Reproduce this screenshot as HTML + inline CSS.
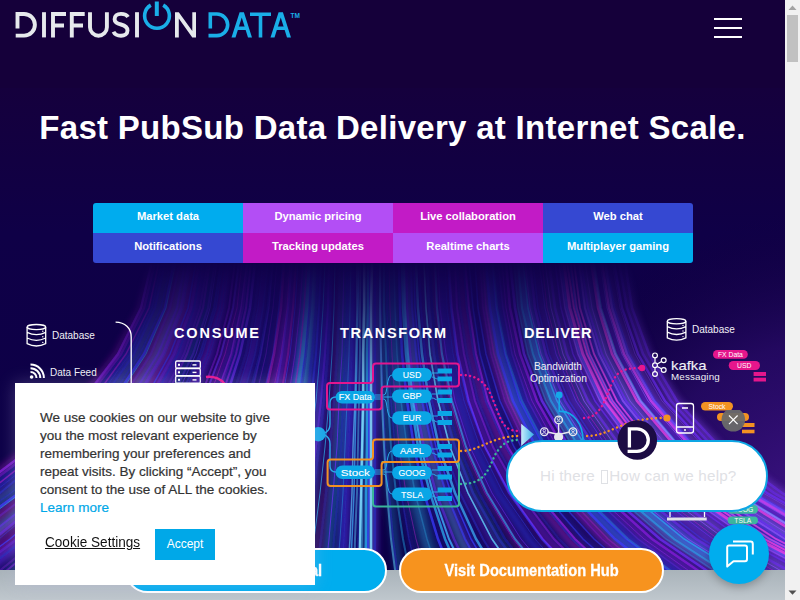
<!DOCTYPE html>
<html><head><meta charset="utf-8">
<style>
*{box-sizing:border-box}
html,body{margin:0;padding:0;width:800px;height:600px;overflow:hidden;background:#15003a;font-family:"Liberation Sans",sans-serif}
#page{position:absolute;left:0;top:0;width:785px;height:600px;overflow:hidden;background:#15003a}
.abs{position:absolute}
#sb{position:absolute;left:785px;top:0;width:15px;height:600px;background:#f1f1f1}
#title{position:absolute;left:0;top:107.6px;width:785px;text-align:center;color:#fff;font-weight:bold;font-size:33px;letter-spacing:0.3px;line-height:40px;white-space:nowrap}
#tabs{position:absolute;left:93px;top:203px;width:600px;height:60px;border-radius:3px;overflow:hidden}
#tabs div{position:absolute;width:150px;height:30px;color:#fff;font-weight:bold;font-size:11.2px;line-height:26px;text-align:center;white-space:nowrap}
#strip{position:absolute;left:0;top:570px;width:785px;height:30px;background:linear-gradient(#a9b3ba,#bfc7cd)}
.btn{position:absolute;top:548px;height:45px;border:2px solid #fff;border-radius:23px;color:#fff;font-weight:bold;font-size:16.8px;line-height:41px;text-align:center;white-space:nowrap}
.btn span{display:inline-block;transform:scaleX(0.875);-webkit-text-stroke:0.3px #fff}
#cookie{position:absolute;left:15px;top:383px;width:300px;height:202px;background:#fff;box-shadow:0 0 16px rgba(190,190,235,.28)}
#cookie p{position:absolute;left:25px;top:26.2px;margin:0;width:275px;font-size:13.5px;line-height:18px;color:#333;white-space:nowrap;-webkit-text-stroke:0.2px #333}
</style></head><body>
<div id="page">
<!--STREAKS--><svg class="abs" style="left:0;top:0" width="785" height="600" viewBox="0 0 785 600">
<defs>
<linearGradient id="bgv" x1="0" y1="88" x2="0" y2="570" gradientUnits="userSpaceOnUse"><stop offset="0" stop-color="#15003d"/><stop offset="0.3" stop-color="#0f0047"/><stop offset="1" stop-color="#0c0048"/></linearGradient>
<linearGradient id="fade" x1="0" y1="262" x2="0" y2="400" gradientUnits="userSpaceOnUse"><stop offset="0" stop-color="#000"/><stop offset="0.3" stop-color="#444"/><stop offset="1" stop-color="#fff"/></linearGradient>
<mask id="m" maskUnits="userSpaceOnUse" x="0" y="262" width="785" height="308"><rect x="0" y="262" width="785" height="308" fill="url(#fade)"/></mask>
<radialGradient id="pg" cx="830" cy="540" r="330" gradientUnits="userSpaceOnUse"><stop offset="0" stop-color="#44168e"/><stop offset="0.6" stop-color="#2c0c6a" stop-opacity="0.7"/><stop offset="1" stop-color="#15003a" stop-opacity="0"/></radialGradient>
<filter id="bl" x="-10%" y="-10%" width="120%" height="120%"><feGaussianBlur stdDeviation="0.7"/></filter>
<filter id="bl2" x="-10%" y="-10%" width="120%" height="120%"><feGaussianBlur stdDeviation="3"/></filter>
</defs>
<rect x="0" y="88" width="785" height="482" fill="url(#bgv)"/>
<rect x="0" y="150" width="785" height="420" fill="url(#pg)"/>
<g mask="url(#m)" fill="none" stroke-linecap="round">
<g filter="url(#bl2)">
<path d="M150,262 L139,308 L115,354 L79,401 L29,447 L-33,493 L-108,539 L-196,585 L-297,632 L-410,678 L-536,724" stroke="#d020c8" stroke-width="4" opacity="0.38"/>
<path d="M155,262 L145,308 L122,354 L86,401 L38,447 L-22,493 L-94,539 L-179,585 L-276,632 L-386,678 L-508,724" stroke="#2a2ab8" stroke-width="8" opacity="0.40"/>
<path d="M161,262 L151,308 L129,354 L95,401 L49,447 L-9,493 L-78,539 L-160,585 L-253,632 L-358,678 L-475,724" stroke="#3a3cff" stroke-width="8" opacity="0.47"/>
<path d="M167,262 L158,308 L136,354 L104,401 L60,447 L4,493 L-62,539 L-140,585 L-230,632 L-330,678 L-442,724" stroke="#b01cc8" stroke-width="4" opacity="0.34"/>
<path d="M170,262 L160,308 L139,354 L107,401 L63,447 L9,493 L-57,539 L-134,585 L-222,632 L-321,678 L-431,724" stroke="#2aa8f0" stroke-width="10" opacity="0.31"/>
<path d="M174,262 L165,308 L144,354 L113,401 L71,447 L19,493 L-45,539 L-119,585 L-204,632 L-300,678 L-407,724" stroke="#2a2ab8" stroke-width="5" opacity="0.54"/>
<path d="M180,262 L170,308 L151,354 L121,401 L80,447 L30,493 L-31,539 L-103,585 L-184,632 L-277,678 L-379,724" stroke="#d020c8" stroke-width="6" opacity="0.51"/>
<path d="M187,262 L178,308 L159,354 L131,401 L93,447 L45,493 L-13,539 L-80,585 L-158,632 L-245,678 L-342,724" stroke="#2aa8f0" stroke-width="10" opacity="0.51"/>
<path d="M189,262 L180,308 L162,354 L134,401 L96,447 L49,493 L-8,539 L-75,585 L-151,632 L-237,678 L-333,724" stroke="#b01cc8" stroke-width="10" opacity="0.42"/>
<path d="M196,262 L188,308 L171,354 L144,401 L109,447 L64,493 L11,539 L-52,585 L-124,632 L-205,678 L-294,724" stroke="#b01cc8" stroke-width="10" opacity="0.44"/>
<path d="M201,262 L193,308 L176,354 L150,401 L116,447 L73,493 L22,539 L-39,585 L-108,632 L-186,678 L-273,724" stroke="#2a2ab8" stroke-width="8" opacity="0.40"/>
<path d="M203,262 L195,308 L179,354 L154,401 L120,447 L78,493 L27,539 L-32,585 L-100,632 L-176,678 L-262,724" stroke="#6a2cf0" stroke-width="10" opacity="0.53"/>
<path d="M209,262 L202,308 L186,354 L163,401 L131,447 L91,493 L43,539 L-13,585 L-77,632 L-149,678 L-229,724" stroke="#2a2ab8" stroke-width="6" opacity="0.51"/>
<path d="M214,262 L207,308 L192,354 L169,401 L138,447 L100,493 L54,539 L0,585 L-62,632 L-131,678 L-208,724" stroke="#2aa8f0" stroke-width="5" opacity="0.31"/>
<path d="M218,262 L211,308 L197,354 L175,401 L146,447 L109,493 L65,539 L13,585 L-46,632 L-112,678 L-186,724" stroke="#2a2ab8" stroke-width="8" opacity="0.36"/>
<path d="M226,262 L219,308 L206,354 L185,401 L158,447 L124,493 L83,539 L35,585 L-20,632 L-82,678 L-151,724" stroke="#6a2cf0" stroke-width="6" opacity="0.36"/>
<path d="M226,262 L220,308 L206,354 L186,401 L159,447 L125,493 L84,539 L36,585 L-19,632 L-80,678 L-149,724" stroke="#8a20e0" stroke-width="6" opacity="0.46"/>
<path d="M231,262 L224,308 L212,354 L192,401 L166,447 L134,493 L94,539 L49,585 L-4,632 L-63,678 L-128,724" stroke="#6a2cf0" stroke-width="6" opacity="0.52"/>
<path d="M240,262 L234,308 L222,354 L205,401 L181,447 L151,493 L116,539 L74,585 L26,632 L-27,678 L-87,724" stroke="#8a20e0" stroke-width="4" opacity="0.44"/>
<path d="M242,262 L236,308 L225,354 L207,401 L184,447 L155,493 L121,539 L80,585 L34,632 L-19,678 L-77,724" stroke="#8a20e0" stroke-width="6" opacity="0.38"/>
<path d="M246,262 L240,308 L229,354 L213,401 L190,447 L163,493 L129,539 L90,585 L46,632 L-4,678 L-60,724" stroke="#6a2cf0" stroke-width="6" opacity="0.36"/>
<path d="M251,262 L246,308 L235,354 L220,401 L199,447 L173,493 L141,539 L105,585 L63,632 L16,678 L-36,724" stroke="#3a3cff" stroke-width="8" opacity="0.42"/>
<path d="M256,262 L251,308 L241,354 L226,401 L207,447 L182,493 L153,539 L118,585 L79,632 L34,678 L-15,724" stroke="#3a3cff" stroke-width="5" opacity="0.40"/>
<path d="M263,262 L259,308 L250,354 L236,401 L219,447 L196,493 L169,539 L138,585 L102,632 L62,678 L17,724" stroke="#6a2cf0" stroke-width="6" opacity="0.33"/>
<path d="M265,262 L260,308 L251,354 L238,401 L220,447 L198,493 L172,539 L141,585 L106,632 L66,678 L22,724" stroke="#6a2cf0" stroke-width="5" opacity="0.57"/>
<path d="M269,262 L265,308 L257,354 L244,401 L228,447 L207,493 L182,539 L153,585 L120,632 L83,678 L42,724" stroke="#2a2ab8" stroke-width="8" opacity="0.44"/>
<path d="M276,262 L272,308 L264,354 L253,401 L238,447 L219,493 L196,539 L170,585 L140,632 L106,678 L68,724" stroke="#2a2ab8" stroke-width="5" opacity="0.43"/>
<path d="M280,262 L277,308 L270,354 L259,401 L245,447 L227,493 L206,539 L181,585 L153,632 L122,678 L87,724" stroke="#3a3cff" stroke-width="5" opacity="0.39"/>
<path d="M287,262 L284,308 L277,354 L268,401 L255,447 L239,493 L220,539 L198,585 L173,632 L144,678 L113,724" stroke="#b01cc8" stroke-width="4" opacity="0.59"/>
<path d="M291,262 L288,308 L282,354 L273,401 L261,447 L246,493 L229,539 L208,585 L185,632 L158,678 L129,724" stroke="#6a2cf0" stroke-width="6" opacity="0.53"/>
<path d="M294,262 L291,308 L285,354 L276,401 L265,447 L251,493 L234,539 L214,585 L192,632 L166,678 L138,724" stroke="#6a2cf0" stroke-width="5" opacity="0.47"/>
<path d="M298,262 L295,308 L289,354 L281,401 L271,447 L258,493 L242,539 L224,585 L203,632 L179,678 L153,724" stroke="#b01cc8" stroke-width="5" opacity="0.37"/>
<path d="M306,262 L303,308 L298,354 L291,401 L282,447 L271,493 L257,539 L242,585 L224,632 L204,678 L181,724" stroke="#3a3cff" stroke-width="10" opacity="0.53"/>
<path d="M311,262 L309,308 L304,354 L298,401 L290,447 L280,493 L268,539 L254,585 L238,632 L220,678 L201,724" stroke="#60d0ff" stroke-width="10" opacity="0.51"/>
<path d="M311,262 L309,308 L305,354 L299,401 L290,447 L280,493 L269,539 L255,585 L239,632 L221,678 L201,724" stroke="#2ab0f0" stroke-width="10" opacity="0.45"/>
<path d="M319,262 L317,308 L314,354 L309,401 L302,447 L294,493 L284,539 L273,585 L260,632 L245,678 L229,724" stroke="#3a3cff" stroke-width="8" opacity="0.46"/>
<path d="M325,262 L323,308 L320,354 L315,401 L310,447 L303,493 L294,539 L284,585 L273,632 L260,678 L246,724" stroke="#1c1c98" stroke-width="6" opacity="0.54"/>
<path d="M328,262 L327,308 L324,354 L320,401 L315,447 L308,493 L301,539 L292,585 L282,632 L271,678 L258,724" stroke="#6a2cf0" stroke-width="5" opacity="0.47"/>
<path d="M331,262 L330,308 L327,354 L323,401 L319,447 L313,493 L306,539 L298,585 L288,632 L278,678 L267,724" stroke="#3a3cff" stroke-width="8" opacity="0.31"/>
<path d="M339,262 L337,308 L335,354 L332,401 L329,447 L324,493 L319,539 L313,585 L306,632 L298,678 L289,724" stroke="#a01cc0" stroke-width="5" opacity="0.31"/>
<path d="M343,262 L342,308 L340,354 L338,401 L335,447 L331,493 L327,539 L321,585 L316,632 L309,678 L302,724" stroke="#1c1c98" stroke-width="6" opacity="0.38"/>
<path d="M345,262 L344,308 L343,354 L341,401 L338,447 L334,493 L330,539 L326,585 L320,632 L315,678 L308,724" stroke="#2ab0f0" stroke-width="10" opacity="0.32"/>
<path d="M352,262 L351,308 L350,354 L349,401 L347,447 L344,493 L342,539 L338,585 L335,632 L331,678 L326,724" stroke="#3a3cff" stroke-width="8" opacity="0.53"/>
<path d="M355,262 L354,308 L353,354 L352,401 L350,447 L348,493 L346,539 L343,585 L340,632 L337,678 L333,724" stroke="#6a2cf0" stroke-width="4" opacity="0.39"/>
<path d="M359,262 L358,308 L357,354 L356,401 L355,447 L354,493 L352,539 L350,585 L348,632 L345,678 L343,724" stroke="#2a2ab8" stroke-width="8" opacity="0.37"/>
<path d="M365,262 L364,308 L364,354 L364,401 L363,447 L362,493 L361,539 L360,585 L359,632 L358,678 L356,724" stroke="#1c1c98" stroke-width="10" opacity="0.34"/>
<path d="M369,262 L369,308 L369,354 L369,401 L369,447 L368,493 L368,539 L367,585 L367,632 L366,678 L366,724" stroke="#2ab0f0" stroke-width="8" opacity="0.43"/>
<path d="M375,262 L374,308 L374,354 L374,401 L374,447 L374,493 L374,539 L374,585 L374,632 L374,678 L374,724" stroke="#6a2cf0" stroke-width="8" opacity="0.50"/>
<path d="M381,262 L381,308 L382,354 L384,401 L386,447 L390,493 L395,539 L401,585 L410,632 L420,678 L432,724" stroke="#2ab0f0" stroke-width="6" opacity="0.37"/>
<path d="M387,262 L388,308 L389,354 L392,401 L396,447 L402,493 L411,539 L422,585 L436,632 L454,678 L475,724" stroke="#1c1c98" stroke-width="8" opacity="0.56"/>
<path d="M393,262 L394,308 L396,354 L400,401 L405,447 L414,493 L425,539 L440,585 L459,632 L483,678 L511,724" stroke="#2ab0f0" stroke-width="10" opacity="0.42"/>
<path d="M399,262 L400,308 L402,354 L406,401 L413,447 L424,493 L438,539 L456,585 L479,632 L507,678 L542,724" stroke="#1c1c98" stroke-width="10" opacity="0.42"/>
<path d="M404,262 L405,308 L408,354 L413,401 L421,447 L433,493 L449,539 L471,585 L498,632 L531,678 L572,724" stroke="#6a2cf0" stroke-width="4" opacity="0.51"/>
<path d="M408,262 L409,308 L413,354 L418,401 L427,447 L441,493 L459,539 L482,585 L512,632 L549,678 L594,724" stroke="#60d0ff" stroke-width="4" opacity="0.56"/>
<path d="M411,262 L412,308 L416,354 L422,401 L431,447 L445,493 L465,539 L490,585 L521,632 L561,678 L608,724" stroke="#6a2cf0" stroke-width="8" opacity="0.34"/>
<path d="M415,262 L417,308 L421,354 L427,401 L438,447 L453,493 L474,539 L502,585 L537,632 L579,678 L631,724" stroke="#1c1c98" stroke-width="10" opacity="0.57"/>
<path d="M423,262 L425,308 L429,354 L437,401 L449,447 L466,493 L490,539 L522,585 L561,632 L610,678 L669,724" stroke="#6a2cf0" stroke-width="10" opacity="0.38"/>
<path d="M428,262 L430,308 L434,354 L443,401 L456,447 L475,493 L500,539 L534,585 L577,632 L629,678 L693,724" stroke="#2ab0f0" stroke-width="4" opacity="0.34"/>
<path d="M434,262 L436,308 L441,354 L450,401 L464,447 L485,493 L512,539 L549,585 L595,632 L652,678 L721,724" stroke="#a01cc0" stroke-width="5" opacity="0.34"/>
<path d="M436,262 L438,308 L443,354 L453,401 L467,447 L488,493 L517,539 L554,585 L602,632 L660,678 L731,724" stroke="#6a2cf0" stroke-width="5" opacity="0.38"/>
<path d="M442,262 L444,308 L450,354 L460,401 L475,447 L498,493 L529,539 L569,585 L620,632 L682,678 L758,724" stroke="#3a3cff" stroke-width="8" opacity="0.53"/>
<path d="M451,262 L454,308 L460,354 L471,401 L488,447 L513,493 L547,539 L591,585 L647,632 L716,678 L800,724" stroke="#8a20e0" stroke-width="10" opacity="0.43"/>
<path d="M454,262 L457,308 L464,354 L475,401 L493,447 L519,493 L554,539 L600,585 L657,632 L729,678 L816,724" stroke="#2a2ab8" stroke-width="6" opacity="0.32"/>
<path d="M460,262 L463,308 L470,354 L482,401 L501,447 L528,493 L565,539 L613,585 L674,632 L750,678 L841,724" stroke="#2a2ab8" stroke-width="6" opacity="0.54"/>
<path d="M462,262 L465,308 L472,354 L485,401 L504,447 L531,493 L569,539 L618,585 L681,632 L757,678 L850,724" stroke="#d020c8" stroke-width="4" opacity="0.53"/>
<path d="M469,262 L472,308 L480,354 L493,401 L513,447 L543,493 L582,539 L634,585 L700,632 L782,678 L880,724" stroke="#3a3cff" stroke-width="6" opacity="0.38"/>
<path d="M477,262 L481,308 L488,354 L502,401 L524,447 L555,493 L598,539 L653,585 L723,632 L810,678 L914,724" stroke="#2a2ab8" stroke-width="8" opacity="0.36"/>
<path d="M481,262 L485,308 L493,354 L507,401 L529,447 L561,493 L605,539 L662,585 L734,632 L823,678 L931,724" stroke="#b01cc8" stroke-width="6" opacity="0.54"/>
<path d="M488,262 L492,308 L500,354 L515,401 L539,447 L573,493 L619,539 L678,585 L754,632 L847,678 L960,724" stroke="#2aa8f0" stroke-width="8" opacity="0.44"/>
<path d="M489,262 L493,308 L502,354 L517,401 L540,447 L574,493 L621,539 L681,585 L757,632 L851,678 L965,724" stroke="#3a3cff" stroke-width="8" opacity="0.44"/>
<path d="M496,262 L500,308 L509,354 L525,401 L549,447 L585,493 L633,539 L696,585 L775,632 L874,678 L992,724" stroke="#3a3cff" stroke-width="10" opacity="0.40"/>
<path d="M503,262 L507,308 L517,354 L533,401 L559,447 L596,493 L646,539 L712,585 L795,632 L898,678 L1021,724" stroke="#8a20e0" stroke-width="6" opacity="0.46"/>
<path d="M506,262 L511,308 L520,354 L537,401 L563,447 L601,493 L653,539 L720,585 L804,632 L909,678 L1035,724" stroke="#2a2ab8" stroke-width="4" opacity="0.51"/>
<path d="M513,262 L518,308 L528,354 L546,401 L573,447 L612,493 L666,539 L736,585 L824,632 L932,678 L1064,724" stroke="#8a20e0" stroke-width="5" opacity="0.47"/>
<path d="M517,262 L522,308 L532,354 L550,401 L578,447 L619,493 L673,539 L745,585 L835,632 L946,678 L1080,724" stroke="#2aa8f0" stroke-width="5" opacity="0.38"/>
<path d="M520,262 L525,308 L536,354 L554,401 L582,447 L623,493 L679,539 L751,585 L843,632 L956,678 L1092,724" stroke="#2aa8f0" stroke-width="8" opacity="0.48"/>
<path d="M526,262 L530,308 L541,354 L560,401 L589,447 L631,493 L688,539 L763,585 L857,632 L972,678 L1113,724" stroke="#5a5cff" stroke-width="10" opacity="0.59"/>
<path d="M535,262 L541,308 L552,354 L572,401 L602,447 L647,493 L706,539 L784,585 L883,632 L1005,678 L1152,724" stroke="#8a4cf8" stroke-width="4" opacity="0.49"/>
<path d="M536,262 L541,308 L553,354 L573,401 L603,447 L648,493 L708,539 L786,585 L885,632 L1007,678 L1155,724" stroke="#6a2cf0" stroke-width="5" opacity="0.44"/>
<path d="M542,262 L547,308 L559,354 L579,401 L611,447 L656,493 L718,539 L798,585 L900,632 L1025,678 L1177,724" stroke="#5a5cff" stroke-width="5" opacity="0.43"/>
<path d="M548,262 L553,308 L565,354 L586,401 L619,447 L666,493 L729,539 L811,585 L916,632 L1044,678 L1200,724" stroke="#a090ff" stroke-width="5" opacity="0.44"/>
<path d="M555,262 L561,308 L573,354 L595,401 L629,447 L677,493 L742,539 L827,585 L935,632 L1068,678 L1228,724" stroke="#6a2cf0" stroke-width="10" opacity="0.41"/>
<path d="M561,262 L567,308 L580,354 L602,401 L636,447 L686,493 L753,539 L840,585 L951,632 L1087,678 L1251,724" stroke="#8a4cf8" stroke-width="5" opacity="0.55"/>
<path d="M564,262 L570,308 L583,354 L606,401 L641,447 L691,493 L759,539 L847,585 L959,632 L1097,678 L1264,724" stroke="#8a4cf8" stroke-width="8" opacity="0.41"/>
<path d="M570,262 L576,308 L589,354 L612,401 L648,447 L699,493 L768,539 L859,585 L973,632 L1114,678 L1284,724" stroke="#3a3cff" stroke-width="5" opacity="0.44"/>
<path d="M577,262 L583,308 L597,354 L620,401 L657,447 L709,493 L781,539 L873,585 L991,632 L1135,678 L1310,724" stroke="#8a4cf8" stroke-width="5" opacity="0.51"/>
<path d="M579,262 L586,308 L599,354 L623,401 L660,447 L713,493 L785,539 L879,585 L997,632 L1143,678 L1320,724" stroke="#3a3cff" stroke-width="10" opacity="0.45"/>
<path d="M585,262 L591,308 L606,354 L630,401 L668,447 L722,493 L795,539 L891,585 L1012,632 L1161,678 L1341,724" stroke="#a090ff" stroke-width="5" opacity="0.54"/>
<path d="M591,262 L598,308 L613,354 L638,401 L676,447 L732,493 L807,539 L905,585 L1029,632 L1181,678 L1366,724" stroke="#6a2cf0" stroke-width="10" opacity="0.39"/>
<path d="M597,262 L604,308 L618,354 L644,401 L684,447 L740,493 L817,539 L916,585 L1042,632 L1198,678 L1386,724" stroke="#6a2cf0" stroke-width="4" opacity="0.31"/>
<path d="M599,262 L606,308 L621,354 L646,401 L686,447 L743,493 L820,539 L921,585 L1048,632 L1204,678 L1393,724" stroke="#6a2cf0" stroke-width="6" opacity="0.47"/>
<path d="M605,262 L612,308 L627,354 L653,401 L694,447 L752,493 L830,539 L933,585 L1062,632 L1222,678 L1414,724" stroke="#8a4cf8" stroke-width="6" opacity="0.42"/>
<path d="M610,262 L617,308 L633,354 L659,401 L701,447 L760,493 L840,539 L944,585 L1076,632 L1238,678 L1434,724" stroke="#8a4cf8" stroke-width="4" opacity="0.59"/>
<path d="M618,262 L626,308 L642,354 L669,401 L712,447 L772,493 L855,539 L962,585 L1097,632 L1264,678 L1465,724" stroke="#8a4cf8" stroke-width="4" opacity="0.32"/>
<path d="M623,262 L631,308 L647,354 L675,401 L718,447 L780,493 L864,539 L972,585 L1110,632 L1279,678 L1484,724" stroke="#8a4cf8" stroke-width="10" opacity="0.39"/>
</g><g filter="url(#bl)">
<path d="M152,262 L141,308 L118,354 L82,401 L33,447 L-28,493 L-102,539 L-189,585 L-288,632 L-399,678 L-524,724" stroke="#8a20e0" stroke-width="2.5" opacity="0.72"/>
<path d="M155,262 L144,308 L121,354 L85,401 L38,447 L-23,493 L-95,539 L-181,585 L-278,632 L-388,678 L-510,724" stroke="#8a20e0" stroke-width="2.5" opacity="0.41"/>
<path d="M159,262 L149,308 L126,354 L92,401 L45,447 L-13,493 L-84,539 L-167,585 L-261,632 L-368,678 L-487,724" stroke="#b01cc8" stroke-width="1.5" opacity="0.58"/>
<path d="M162,262 L152,308 L130,354 L96,401 L51,447 L-7,493 L-76,539 L-157,585 L-250,632 L-354,678 L-470,724" stroke="#2a2ab8" stroke-width="1.0" opacity="0.71"/>
<path d="M165,262 L155,308 L134,354 L101,401 L56,447 L0,493 L-68,539 L-147,585 L-237,632 L-340,678 L-453,724" stroke="#2a2ab8" stroke-width="2.0" opacity="0.80"/>
<path d="M171,262 L161,308 L140,354 L108,401 L65,447 L11,493 L-54,539 L-130,585 L-217,632 L-316,678 L-425,724" stroke="#2a2ab8" stroke-width="1.5" opacity="0.61"/>
<path d="M174,262 L165,308 L144,354 L113,401 L71,447 L19,493 L-45,539 L-119,585 L-204,632 L-300,678 L-407,724" stroke="#3a3cff" stroke-width="2.5" opacity="0.76"/>
<path d="M176,262 L166,308 L146,354 L115,401 L74,447 L21,493 L-41,539 L-115,585 L-199,632 L-294,678 L-400,724" stroke="#2aa8f0" stroke-width="1.0" opacity="0.65"/>
<path d="M180,262 L170,308 L151,354 L121,401 L81,447 L30,493 L-31,539 L-102,585 L-184,632 L-276,678 L-378,724" stroke="#6a2cf0" stroke-width="2.0" opacity="0.34"/>
<path d="M185,262 L177,308 L158,354 L129,401 L91,447 L42,493 L-16,539 L-84,585 L-162,632 L-251,678 L-348,724" stroke="#6a2cf0" stroke-width="2.0" opacity="0.56"/>
<path d="M189,262 L181,308 L163,354 L135,401 L98,447 L51,493 L-6,539 L-72,585 L-148,632 L-233,678 L-328,724" stroke="#6a2cf0" stroke-width="2.5" opacity="0.55"/>
<path d="M191,262 L183,308 L165,354 L137,401 L101,447 L54,493 L-1,539 L-67,585 L-141,632 L-225,678 L-319,724" stroke="#3a3cff" stroke-width="1.0" opacity="0.38"/>
<path d="M196,262 L188,308 L170,354 L144,401 L109,447 L64,493 L10,539 L-52,585 L-124,632 L-205,678 L-295,724" stroke="#3a3cff" stroke-width="1.5" opacity="0.71"/>
<path d="M199,262 L191,308 L174,354 L148,401 L113,447 L70,493 L17,539 L-44,585 L-115,632 L-194,678 L-282,724" stroke="#6a2cf0" stroke-width="2.5" opacity="0.37"/>
<path d="M202,262 L194,308 L178,354 L152,401 L119,447 L76,493 L25,539 L-35,585 L-103,632 L-180,678 L-266,724" stroke="#2a2ab8" stroke-width="2.0" opacity="0.72"/>
<path d="M208,262 L200,308 L184,354 L160,401 L128,447 L88,493 L39,539 L-18,585 L-83,632 L-156,678 L-238,724" stroke="#8a20e0" stroke-width="2.0" opacity="0.31"/>
<path d="M210,262 L203,308 L187,354 L164,401 L132,447 L92,493 L45,539 L-11,585 L-75,632 L-146,678 L-226,724" stroke="#8a20e0" stroke-width="2.0" opacity="0.50"/>
<path d="M215,262 L208,308 L193,354 L170,401 L140,447 L102,493 L56,539 L3,585 L-58,632 L-127,678 L-203,724" stroke="#6a2cf0" stroke-width="2.0" opacity="0.41"/>
<path d="M217,262 L210,308 L196,354 L174,401 L144,447 L107,493 L63,539 L11,585 L-49,632 L-116,678 L-191,724" stroke="#6a2cf0" stroke-width="1.0" opacity="0.65"/>
<path d="M221,262 L214,308 L200,354 L178,401 L150,447 L114,493 L71,539 L20,585 L-37,632 L-102,678 L-175,724" stroke="#2a2ab8" stroke-width="2.0" opacity="0.73"/>
<path d="M223,262 L216,308 L202,354 L181,401 L153,447 L118,493 L76,539 L27,585 L-30,632 L-94,678 L-164,724" stroke="#2a2ab8" stroke-width="1.5" opacity="0.77"/>
<path d="M226,262 L220,308 L207,354 L186,401 L159,447 L125,493 L84,539 L37,585 L-18,632 L-80,678 L-148,724" stroke="#2a2ab8" stroke-width="1.5" opacity="0.58"/>
<path d="M229,262 L223,308 L210,354 L190,401 L164,447 L131,493 L91,539 L45,585 L-8,632 L-68,678 L-134,724" stroke="#2a2ab8" stroke-width="1.0" opacity="0.56"/>
<path d="M235,262 L229,308 L217,354 L199,401 L174,447 L143,493 L106,539 L62,585 L12,632 L-44,678 L-106,724" stroke="#8a20e0" stroke-width="2.0" opacity="0.60"/>
<path d="M239,262 L233,308 L221,354 L203,401 L179,447 L149,493 L113,539 L71,585 L23,632 L-32,678 L-92,724" stroke="#6a2cf0" stroke-width="2.0" opacity="0.77"/>
<path d="M242,262 L237,308 L225,354 L208,401 L185,447 L156,493 L122,539 L81,585 L35,632 L-17,678 L-74,724" stroke="#b01cc8" stroke-width="1.0" opacity="0.61"/>
<path d="M247,262 L241,308 L231,354 L214,401 L192,447 L165,493 L132,539 L94,585 L50,632 L0,678 L-55,724" stroke="#8a20e0" stroke-width="1.5" opacity="0.80"/>
<path d="M248,262 L243,308 L232,354 L216,401 L194,447 L167,493 L135,539 L97,585 L54,632 L5,678 L-49,724" stroke="#8a20e0" stroke-width="2.0" opacity="0.34"/>
<path d="M251,262 L246,308 L236,354 L220,401 L200,447 L174,493 L142,539 L106,585 L64,632 L18,678 L-34,724" stroke="#8a20e0" stroke-width="2.0" opacity="0.74"/>
<path d="M255,262 L250,308 L240,354 L225,401 L206,447 L181,493 L151,539 L116,585 L76,632 L32,678 L-18,724" stroke="#6a2cf0" stroke-width="2.5" opacity="0.78"/>
<path d="M260,262 L255,308 L246,354 L231,401 L213,447 L189,493 L161,539 L128,585 L90,632 L48,678 L1,724" stroke="#2a2ab8" stroke-width="2.5" opacity="0.32"/>
<path d="M263,262 L258,308 L249,354 L235,401 L217,447 L195,493 L167,539 L136,585 L100,632 L59,678 L14,724" stroke="#2a2ab8" stroke-width="1.0" opacity="0.60"/>
<path d="M268,262 L263,308 L255,354 L242,401 L225,447 L204,493 L179,539 L149,585 L115,632 L77,678 L35,724" stroke="#2a2ab8" stroke-width="1.5" opacity="0.50"/>
<path d="M272,262 L268,308 L260,354 L248,401 L232,447 L212,493 L188,539 L160,585 L129,632 L93,678 L53,724" stroke="#2a2ab8" stroke-width="2.5" opacity="0.52"/>
<path d="M273,262 L269,308 L261,354 L250,401 L234,447 L214,493 L191,539 L164,585 L132,632 L97,678 L58,724" stroke="#6a2cf0" stroke-width="1.5" opacity="0.35"/>
<path d="M277,262 L273,308 L266,354 L255,401 L240,447 L221,493 L199,539 L173,585 L144,632 L111,678 L74,724" stroke="#8a20e0" stroke-width="1.0" opacity="0.41"/>
<path d="M283,262 L279,308 L273,354 L262,401 L249,447 L232,493 L211,539 L188,585 L161,632 L131,678 L97,724" stroke="#3a3cff" stroke-width="1.5" opacity="0.49"/>
<path d="M284,262 L281,308 L274,354 L264,401 L250,447 L234,493 L214,539 L191,585 L164,632 L134,678 L101,724" stroke="#b01cc8" stroke-width="2.5" opacity="0.64"/>
<path d="M290,262 L287,308 L281,354 L271,401 L259,447 L244,493 L226,539 L205,585 L181,632 L154,678 L124,724" stroke="#b01cc8" stroke-width="1.0" opacity="0.57"/>
<path d="M292,262 L288,308 L282,354 L274,401 L262,447 L247,493 L229,539 L209,585 L186,632 L159,678 L130,724" stroke="#6a2cf0" stroke-width="2.0" opacity="0.51"/>
<path d="M296,262 L293,308 L288,354 L280,401 L269,447 L255,493 L239,539 L220,585 L199,632 L175,678 L148,724" stroke="#d020c8" stroke-width="2.0" opacity="0.43"/>
<path d="M298,262 L295,308 L290,354 L282,401 L272,447 L259,493 L243,539 L225,585 L204,632 L181,678 L155,724" stroke="#3a3cff" stroke-width="1.0" opacity="0.67"/>
<path d="M303,262 L300,308 L295,354 L288,401 L278,447 L266,493 L252,539 L235,585 L216,632 L195,678 L171,724" stroke="#8a20e0" stroke-width="1.0" opacity="0.72"/>
<path d="M307,262 L304,308 L300,354 L293,401 L284,447 L273,493 L260,539 L245,585 L227,632 L207,678 L186,724" stroke="#b01cc8" stroke-width="1.5" opacity="0.62"/>
<path d="M311,262 L309,308 L305,354 L298,401 L290,447 L280,493 L268,539 L254,585 L238,632 L221,678 L201,724" stroke="#3a3cff" stroke-width="1.5" opacity="0.67"/>
<path d="M312,262 L310,308 L306,354 L300,401 L292,447 L282,493 L270,539 L257,585 L241,632 L224,678 L204,724" stroke="#2a2ab8" stroke-width="2.5" opacity="0.62"/>
<path d="M318,262 L316,308 L312,354 L307,401 L300,447 L291,493 L281,539 L269,585 L255,632 L240,678 L223,724" stroke="#2a2ab8" stroke-width="2.5" opacity="0.60"/>
<path d="M321,262 L319,308 L316,354 L311,401 L305,447 L297,493 L287,539 L277,585 L264,632 L250,678 L235,724" stroke="#3a3cff" stroke-width="2.0" opacity="0.40"/>
<path d="M325,262 L323,308 L320,354 L316,401 L310,447 L303,493 L295,539 L285,585 L274,632 L261,678 L247,724" stroke="#2ab0f0" stroke-width="1.0" opacity="0.65"/>
<path d="M329,262 L328,308 L325,354 L321,401 L316,447 L310,493 L303,539 L294,585 L284,632 L274,678 L262,724" stroke="#6a2cf0" stroke-width="2.0" opacity="0.39"/>
<path d="M332,262 L330,308 L328,354 L324,401 L319,447 L313,493 L307,539 L299,585 L290,632 L279,678 L268,724" stroke="#2a2ab8" stroke-width="2.5" opacity="0.35"/>
<path d="M335,262 L334,308 L332,354 L329,401 L325,447 L320,493 L314,539 L307,585 L299,632 L290,678 L280,724" stroke="#2ab0f0" stroke-width="1.0" opacity="0.71"/>
<path d="M340,262 L339,308 L337,354 L334,401 L330,447 L326,493 L321,539 L315,585 L308,632 L301,678 L293,724" stroke="#2a2ab8" stroke-width="2.5" opacity="0.30"/>
<path d="M344,262 L343,308 L342,354 L339,401 L337,447 L333,493 L329,539 L324,585 L318,632 L312,678 L305,724" stroke="#6a2cf0" stroke-width="1.0" opacity="0.79"/>
<path d="M347,262 L347,308 L345,354 L343,401 L341,447 L338,493 L334,539 L330,585 L325,632 L320,678 L314,724" stroke="#2a2ab8" stroke-width="2.0" opacity="0.44"/>
<path d="M351,262 L350,308 L349,354 L347,401 L345,447 L343,493 L340,539 L336,585 L332,632 L328,678 L323,724" stroke="#2ab0f0" stroke-width="1.0" opacity="0.42"/>
<path d="M353,262 L353,308 L352,354 L350,401 L349,447 L346,493 L344,539 L341,585 L338,632 L334,678 L330,724" stroke="#2a2ab8" stroke-width="1.0" opacity="0.49"/>
<path d="M357,262 L357,308 L356,354 L355,401 L353,447 L352,493 L350,539 L347,585 L345,632 L342,678 L339,724" stroke="#60d0ff" stroke-width="1.5" opacity="0.63"/>
<path d="M361,262 L360,308 L360,354 L359,401 L358,447 L357,493 L355,539 L354,585 L352,632 L350,678 L348,724" stroke="#60d0ff" stroke-width="2.0" opacity="0.44"/>
<path d="M362,262 L362,308 L362,354 L361,401 L360,447 L359,493 L358,539 L356,585 L355,632 L353,678 L351,724" stroke="#1c1c98" stroke-width="2.0" opacity="0.55"/>
<path d="M368,262 L368,308 L367,354 L367,401 L367,447 L366,493 L366,539 L365,585 L364,632 L364,678 L363,724" stroke="#2ab0f0" stroke-width="2.5" opacity="0.73"/>
<path d="M370,262 L370,308 L369,354 L369,401 L369,447 L369,493 L368,539 L368,585 L367,632 L367,678 L366,724" stroke="#3a3cff" stroke-width="2.0" opacity="0.66"/>
<path d="M375,262 L375,308 L375,354 L375,401 L375,447 L375,493 L375,539 L375,585 L375,632 L375,678 L374,724" stroke="#2a2ab8" stroke-width="2.0" opacity="0.70"/>
<path d="M380,262 L381,308 L381,354 L383,401 L385,447 L389,493 L393,539 L399,585 L407,632 L416,678 L428,724" stroke="#2a2ab8" stroke-width="2.0" opacity="0.57"/>
<path d="M384,262 L384,308 L386,354 L388,401 L391,447 L396,493 L403,539 L412,585 L423,632 L437,678 L453,724" stroke="#2ab0f0" stroke-width="2.0" opacity="0.41"/>
<path d="M387,262 L387,308 L388,354 L391,401 L395,447 L401,493 L409,539 L420,585 L433,632 L450,678 L470,724" stroke="#2a2ab8" stroke-width="1.5" opacity="0.48"/>
<path d="M389,262 L390,308 L392,354 L395,401 L399,447 L406,493 L416,539 L429,585 L444,632 L464,678 L488,724" stroke="#a01cc0" stroke-width="1.0" opacity="0.52"/>
<path d="M394,262 L395,308 L397,354 L401,401 L407,447 L415,493 L427,539 L442,585 L462,632 L486,678 L516,724" stroke="#2ab0f0" stroke-width="1.5" opacity="0.31"/>
<path d="M399,262 L400,308 L402,354 L407,401 L414,447 L424,493 L438,539 L456,585 L480,632 L508,678 L543,724" stroke="#3a3cff" stroke-width="2.5" opacity="0.74"/>
<path d="M402,262 L403,308 L406,354 L411,401 L418,447 L430,493 L445,539 L465,585 L491,632 L523,678 L561,724" stroke="#2ab0f0" stroke-width="2.5" opacity="0.74"/>
<path d="M406,262 L407,308 L410,354 L415,401 L424,447 L436,493 L454,539 L476,585 L504,632 L539,678 L581,724" stroke="#6a2cf0" stroke-width="2.5" opacity="0.53"/>
<path d="M411,262 L412,308 L416,354 L422,401 L432,447 L446,493 L465,539 L490,585 L522,632 L561,678 L609,724" stroke="#3a3cff" stroke-width="2.0" opacity="0.60"/>
<path d="M414,262 L415,308 L419,354 L426,401 L436,447 L451,493 L471,539 L498,585 L532,632 L573,678 L624,724" stroke="#3a3cff" stroke-width="1.5" opacity="0.71"/>
<path d="M419,262 L421,308 L425,354 L432,401 L444,447 L460,493 L483,539 L512,585 L550,632 L596,678 L651,724" stroke="#2a2ab8" stroke-width="2.0" opacity="0.60"/>
<path d="M424,262 L426,308 L430,354 L438,401 L450,447 L468,493 L492,539 L524,585 L564,632 L614,678 L674,724" stroke="#2ab0f0" stroke-width="1.5" opacity="0.64"/>
<path d="M427,262 L429,308 L434,354 L442,401 L455,447 L473,493 L499,539 L532,585 L574,632 L626,678 L689,724" stroke="#3a3cff" stroke-width="2.5" opacity="0.31"/>
<path d="M430,262 L432,308 L437,354 L446,401 L459,447 L479,493 L505,539 L540,585 L584,632 L639,678 L705,724" stroke="#1c1c98" stroke-width="2.5" opacity="0.74"/>
<path d="M434,262 L436,308 L441,354 L450,401 L464,447 L485,493 L513,539 L550,585 L596,632 L653,678 L722,724" stroke="#a01cc0" stroke-width="1.0" opacity="0.47"/>
<path d="M438,262 L440,308 L446,354 L455,401 L470,447 L492,493 L521,539 L560,585 L608,632 L668,678 L741,724" stroke="#6a2cf0" stroke-width="1.0" opacity="0.55"/>
<path d="M445,262 L447,308 L453,354 L464,401 L480,447 L503,493 L535,539 L576,585 L629,632 L694,678 L773,724" stroke="#2a2ab8" stroke-width="1.0" opacity="0.77"/>
<path d="M448,262 L451,308 L457,354 L468,401 L485,447 L509,493 L542,539 L585,585 L640,632 L707,678 L789,724" stroke="#3a3cff" stroke-width="2.0" opacity="0.67"/>
<path d="M449,262 L452,308 L458,354 L469,401 L485,447 L510,493 L543,539 L587,585 L642,632 L709,678 L791,724" stroke="#6a2cf0" stroke-width="1.5" opacity="0.78"/>
<path d="M455,262 L457,308 L464,354 L475,401 L493,447 L519,493 L554,539 L600,585 L658,632 L729,678 L816,724" stroke="#8a20e0" stroke-width="2.0" opacity="0.50"/>
<path d="M457,262 L460,308 L467,354 L478,401 L497,447 L523,493 L559,539 L606,585 L665,632 L739,678 L828,724" stroke="#2a2ab8" stroke-width="2.0" opacity="0.33"/>
<path d="M464,262 L467,308 L474,354 L486,401 L506,447 L534,493 L572,539 L621,585 L684,632 L762,678 L856,724" stroke="#2a2ab8" stroke-width="2.5" opacity="0.62"/>
<path d="M465,262 L469,308 L476,354 L488,401 L508,447 L536,493 L575,539 L625,585 L689,632 L768,678 L864,724" stroke="#8a20e0" stroke-width="2.0" opacity="0.77"/>
<path d="M469,262 L473,308 L480,354 L493,401 L514,447 L543,493 L583,539 L635,585 L701,632 L783,678 L881,724" stroke="#3a3cff" stroke-width="1.5" opacity="0.51"/>
<path d="M475,262 L478,308 L486,354 L500,401 L521,447 L552,493 L594,539 L648,585 L717,632 L802,678 L905,724" stroke="#3a3cff" stroke-width="1.5" opacity="0.53"/>
<path d="M480,262 L483,308 L491,354 L505,401 L527,447 L559,493 L602,539 L659,585 L730,632 L818,678 L924,724" stroke="#8a20e0" stroke-width="1.5" opacity="0.32"/>
<path d="M483,262 L486,308 L494,354 L509,401 L531,447 L564,493 L608,539 L666,585 L738,632 L828,678 L937,724" stroke="#b01cc8" stroke-width="1.5" opacity="0.39"/>
<path d="M486,262 L490,308 L498,354 L513,401 L536,447 L570,493 L615,539 L674,585 L749,632 L841,678 L952,724" stroke="#3a3cff" stroke-width="2.5" opacity="0.72"/>
<path d="M492,262 L496,308 L505,354 L520,401 L544,447 L579,493 L626,539 L688,585 L765,632 L861,678 L977,724" stroke="#3a3cff" stroke-width="1.5" opacity="0.65"/>
<path d="M493,262 L497,308 L506,354 L522,401 L546,447 L581,493 L628,539 L690,585 L768,632 L865,678 L982,724" stroke="#2aa8f0" stroke-width="2.0" opacity="0.31"/>
<path d="M498,262 L503,308 L512,354 L528,401 L553,447 L589,493 L638,539 L702,585 L783,632 L883,678 L1003,724" stroke="#6a2cf0" stroke-width="1.5" opacity="0.33"/>
<path d="M502,262 L506,308 L515,354 L532,401 L557,447 L594,493 L644,539 L709,585 L792,632 L893,678 L1016,724" stroke="#8a20e0" stroke-width="1.0" opacity="0.56"/>
<path d="M506,262 L510,308 L520,354 L537,401 L563,447 L601,493 L652,539 L719,585 L804,632 L908,678 L1035,724" stroke="#8a20e0" stroke-width="2.5" opacity="0.70"/>
<path d="M510,262 L515,308 L524,354 L542,401 L569,447 L607,493 L660,539 L728,585 L815,632 L922,678 L1051,724" stroke="#6a2cf0" stroke-width="2.5" opacity="0.79"/>
<path d="M514,262 L518,308 L528,354 L546,401 L573,447 L613,493 L666,539 L736,585 L824,632 L933,678 L1065,724" stroke="#2aa8f0" stroke-width="1.5" opacity="0.35"/>
<path d="M518,262 L522,308 L533,354 L551,401 L579,447 L619,493 L674,539 L745,585 L835,632 L946,678 L1081,724" stroke="#2aa8f0" stroke-width="2.0" opacity="0.57"/>
<path d="M523,262 L528,308 L539,354 L557,401 L586,447 L628,493 L684,539 L758,585 L850,632 L965,678 L1104,724" stroke="#2aa8f0" stroke-width="1.5" opacity="0.73"/>
<path d="M525,262 L530,308 L541,354 L560,401 L589,447 L631,493 L688,539 L762,585 L856,632 L972,678 L1112,724" stroke="#8a4cf8" stroke-width="1.0" opacity="0.66"/>
<path d="M530,262 L535,308 L546,354 L565,401 L595,447 L638,493 L696,539 L772,585 L868,632 L987,678 L1130,724" stroke="#6a2cf0" stroke-width="2.5" opacity="0.60"/>
<path d="M533,262 L538,308 L549,354 L569,401 L599,447 L643,493 L702,539 L779,585 L877,632 L997,678 L1143,724" stroke="#3a3cff" stroke-width="1.5" opacity="0.39"/>
<path d="M539,262 L545,308 L556,354 L576,401 L607,447 L652,493 L713,539 L793,585 L893,632 L1017,678 L1166,724" stroke="#6a2cf0" stroke-width="1.0" opacity="0.65"/>
<path d="M542,262 L547,308 L559,354 L579,401 L611,447 L656,493 L718,539 L799,585 L900,632 L1025,678 L1177,724" stroke="#b01cc8" stroke-width="1.0" opacity="0.57"/>
<path d="M545,262 L551,308 L563,354 L584,401 L616,447 L662,493 L725,539 L806,585 L909,632 L1037,678 L1191,724" stroke="#8a4cf8" stroke-width="1.0" opacity="0.76"/>
<path d="M549,262 L555,308 L567,354 L588,401 L621,447 L668,493 L731,539 L815,585 L919,632 L1049,678 L1205,724" stroke="#6a2cf0" stroke-width="2.5" opacity="0.64"/>
<path d="M555,262 L561,308 L573,354 L595,401 L629,447 L677,493 L742,539 L828,585 L935,632 L1068,678 L1229,724" stroke="#6a2cf0" stroke-width="1.5" opacity="0.68"/>
<path d="M559,262 L565,308 L578,354 L600,401 L634,447 L683,493 L749,539 L836,585 L945,632 L1080,678 L1244,724" stroke="#8a4cf8" stroke-width="1.5" opacity="0.78"/>
<path d="M561,262 L567,308 L580,354 L602,401 L637,447 L686,493 L753,539 L841,585 L951,632 L1087,678 L1252,724" stroke="#5a5cff" stroke-width="2.0" opacity="0.50"/>
<path d="M565,262 L571,308 L584,354 L607,401 L642,447 L692,493 L760,539 L849,585 L961,632 L1099,678 L1267,724" stroke="#b01cc8" stroke-width="1.0" opacity="0.31"/>
<path d="M570,262 L576,308 L589,354 L612,401 L648,447 L699,493 L769,539 L859,585 L973,632 L1114,678 L1284,724" stroke="#5a5cff" stroke-width="2.0" opacity="0.74"/>
<path d="M574,262 L580,308 L594,354 L617,401 L654,447 L706,493 L776,539 L868,585 L984,632 L1127,678 L1300,724" stroke="#8a4cf8" stroke-width="1.0" opacity="0.76"/>
<path d="M579,262 L585,308 L599,354 L623,401 L660,447 L713,493 L785,539 L878,585 L996,632 L1142,678 L1318,724" stroke="#8a4cf8" stroke-width="2.0" opacity="0.80"/>
<path d="M581,262 L588,308 L602,354 L626,401 L663,447 L717,493 L789,539 L884,585 L1003,632 L1150,678 L1328,724" stroke="#6a2cf0" stroke-width="2.0" opacity="0.73"/>
<path d="M585,262 L592,308 L606,354 L630,401 L668,447 L723,493 L796,539 L892,585 L1013,632 L1162,678 L1343,724" stroke="#8a4cf8" stroke-width="1.0" opacity="0.73"/>
<path d="M592,262 L599,308 L614,354 L639,401 L678,447 L733,493 L809,539 L907,585 L1031,632 L1184,678 L1369,724" stroke="#8a4cf8" stroke-width="2.0" opacity="0.37"/>
<path d="M594,262 L601,308 L616,354 L641,401 L680,447 L736,493 L812,539 L911,585 L1036,632 L1190,678 L1376,724" stroke="#40b0f0" stroke-width="2.0" opacity="0.59"/>
<path d="M600,262 L607,308 L622,354 L648,401 L688,447 L745,493 L823,539 L923,585 L1051,632 L1208,678 L1398,724" stroke="#8a4cf8" stroke-width="1.0" opacity="0.71"/>
<path d="M605,262 L612,308 L627,354 L654,401 L694,447 L752,493 L831,539 L934,585 L1063,632 L1223,678 L1416,724" stroke="#8a4cf8" stroke-width="2.5" opacity="0.80"/>
<path d="M606,262 L614,308 L629,354 L655,401 L696,447 L754,493 L833,539 L937,585 L1067,632 L1227,678 L1421,724" stroke="#3a3cff" stroke-width="2.5" opacity="0.36"/>
<path d="M612,262 L620,308 L635,354 L662,401 L704,447 L763,493 L844,539 L949,585 L1082,632 L1245,678 L1443,724" stroke="#8a4cf8" stroke-width="1.0" opacity="0.42"/>
<path d="M614,262 L622,308 L638,354 L665,401 L707,447 L767,493 L848,539 L954,585 L1087,632 L1252,678 L1451,724" stroke="#6a2cf0" stroke-width="2.5" opacity="0.77"/>
<path d="M619,262 L627,308 L643,354 L671,401 L713,447 L774,493 L857,539 L964,585 L1100,632 L1267,678 L1469,724" stroke="#6a2cf0" stroke-width="2.5" opacity="0.53"/>
<path d="M625,262 L632,308 L649,354 L677,401 L720,447 L782,493 L866,539 L975,585 L1113,632 L1283,678 L1488,724" stroke="#6a2cf0" stroke-width="2.5" opacity="0.53"/>
<path d="M435,262 L437,308 L442,354 L452,401 L466,447 L487,493 L515,539 L552,585 L599,632 L657,678 L727,724" stroke="#40b8ff" stroke-width="2.0" opacity="0.55"/>
<path d="M365,262 L365,308 L364,354 L364,401 L363,447 L362,493 L362,539 L361,585 L359,632 L358,678 L357,724" stroke="#5cd0ff" stroke-width="1.5" opacity="0.51"/>
<path d="M364,262 L364,308 L363,354 L363,401 L362,447 L361,493 L360,539 L359,585 L358,632 L357,678 L355,724" stroke="#5cd0ff" stroke-width="2.5" opacity="0.62"/>
<path d="M359,262 L358,308 L357,354 L356,401 L355,447 L354,493 L352,539 L350,585 L348,632 L345,678 L343,724" stroke="#40b8ff" stroke-width="1.5" opacity="0.67"/>
<path d="M416,262 L418,308 L422,354 L429,401 L439,447 L455,493 L476,539 L504,585 L540,632 L583,678 L636,724" stroke="#40b8ff" stroke-width="2.5" opacity="0.69"/>
<path d="M372,262 L371,308 L371,354 L371,401 L371,447 L371,493 L371,539 L371,585 L370,632 L370,678 L370,724" stroke="#8ae0ff" stroke-width="2.5" opacity="0.81"/>
<path d="M424,262 L426,308 L430,354 L438,401 L450,447 L468,493 L492,539 L524,585 L564,632 L613,678 L673,724" stroke="#8ae0ff" stroke-width="1.5" opacity="0.51"/>
<path d="M404,262 L405,308 L408,354 L413,401 L421,447 L433,493 L449,539 L471,585 L497,632 L531,678 L571,724" stroke="#40b8ff" stroke-width="2.0" opacity="0.77"/>
<path d="M380,262 L380,308 L381,354 L382,401 L384,447 L387,493 L391,539 L397,585 L404,632 L413,678 L423,724" stroke="#5cd0ff" stroke-width="2.0" opacity="0.50"/>
<path d="M364,262 L364,308 L363,354 L363,401 L362,447 L361,493 L360,539 L359,585 L358,632 L356,678 L355,724" stroke="#8ae0ff" stroke-width="2.0" opacity="0.74"/>
<path d="M602,262 L609,308 L624,354 L651,401 L691,447 L748,493 L826,539 L928,585 L1057,632 L1215,678 L1406,724" stroke="#c040f0" stroke-width="2.5" opacity="0.90"/>
<path d="M563,262 L569,308 L582,354 L604,401 L639,447 L688,493 L756,539 L844,585 L955,632 L1092,678 L1257,724" stroke="#c040f0" stroke-width="1.5" opacity="0.80"/>
<path d="M571,262 L577,308 L590,354 L613,401 L649,447 L700,493 L770,539 L861,585 L975,632 L1117,678 L1287,724" stroke="#e040e0" stroke-width="1.5" opacity="0.66"/>
<path d="M591,262 L598,308 L612,354 L637,401 L676,447 L731,493 L806,539 L904,585 L1028,632 L1180,678 L1364,724" stroke="#e040e0" stroke-width="2.5" opacity="0.81"/>
<path d="M574,262 L580,308 L594,354 L617,401 L653,447 L705,493 L776,539 L868,585 L984,632 L1127,678 L1300,724" stroke="#e040e0" stroke-width="2.0" opacity="0.75"/>
<path d="M567,262 L574,308 L587,354 L610,401 L645,447 L696,493 L764,539 L854,585 L967,632 L1107,678 L1276,724" stroke="#e040e0" stroke-width="2.0" opacity="0.88"/>
<path d="M564,262 L570,308 L583,354 L605,401 L640,447 L690,493 L758,539 L846,585 L958,632 L1096,678 L1262,724" stroke="#e040e0" stroke-width="2.5" opacity="0.81"/>
<path d="M593,262 L600,308 L615,354 L640,401 L679,447 L735,493 L811,539 L909,585 L1034,632 L1188,678 L1373,724" stroke="#9a6cff" stroke-width="2.0" opacity="0.88"/>
</g></g>
</svg><!--/STREAKS-->
<!--DIAGRAM--><svg class="abs" style="left:0;top:0" width="785" height="600" viewBox="0 0 785 600" font-family="Liberation Sans">
<g fill="none" stroke="#fff" stroke-width="1.3">
 <g transform="translate(-640.2,5.8)"><ellipse cx="676.6" cy="321.3" rx="9.3" ry="2.6"/>
  <path d="M667.3,321.3 V337.8 Q676.6,342.6 685.9,337.8 V321.3 M667.3,326.6 Q676.6,331.2 685.9,326.6 M667.3,332.2 Q676.6,336.8 685.9,332.2"/>
  <circle cx="683" cy="325.4" r="0.7" fill="#fff" stroke="none"/><circle cx="683" cy="331" r="0.7" fill="#fff" stroke="none"/><circle cx="683" cy="336.6" r="0.7" fill="#fff" stroke="none"/></g>
 <path d="M30.5,372 A6,6 0 0 1 36.5,378 M30.5,368.2 A9.8,9.8 0 0 1 40.3,378 M30.5,364.6 A13.4,13.4 0 0 1 43.9,378" stroke-width="2"/>
 <path d="M115.6,322.2 C125,322.5 131.2,328 131.2,337 V384"/>
 <rect x="175.7" y="361" width="24.6" height="7.2" rx="1.2"/>
 <rect x="175.7" y="368.5" width="24.6" height="7.2" rx="1.2"/>
 <rect x="175.7" y="376" width="24.6" height="7.2" rx="1.2"/>
 <ellipse cx="676.6" cy="321.3" rx="9.3" ry="2.6"/>
  <path d="M667.3,321.3 V337.8 Q676.6,342.6 685.9,337.8 V321.3 M667.3,326.6 Q676.6,331.2 685.9,326.6 M667.3,332.2 Q676.6,336.8 685.9,332.2"/>
  <circle cx="683" cy="325.4" r="0.7" fill="#fff" stroke="none"/><circle cx="683" cy="331" r="0.7" fill="#fff" stroke="none"/><circle cx="683" cy="336.6" r="0.7" fill="#fff" stroke="none"/>
 <rect x="676.5" y="403.5" width="17" height="29.5" rx="2.5"/>
 <path d="M676.5,427 H693.5 M682,408 H688"/>
 <path d="M670,505 V517 M704.5,505 V517"/>
</g>
<g fill="#fff">
 <rect x="178" y="363.8" width="2" height="2"/><rect x="192.5" y="364.2" width="4" height="1.4"/>
 <rect x="178" y="371.3" width="2" height="2"/><rect x="192.5" y="371.7" width="4" height="1.4"/>
 <rect x="178" y="378.8" width="2" height="2"/><rect x="192.5" y="379.2" width="4" height="1.4"/>
 <circle cx="685" cy="430" r="1"/>
 <circle cx="31.6" cy="377" r="1.8"/>
 <rect x="667" y="517.5" width="39.7" height="3" fill="#e0e0e8"/>
</g>
<path d="M206,377 C214,376 221,379 224.5,384" fill="none" stroke="#e8168e" stroke-width="2.6"/>
<g fill="#f0f0f5" font-size="10">
 <text x="52" y="339">Database</text>
 <text x="50" y="376.2">Data Feed</text>
 <text x="692" y="333">Database</text>
 <text x="534" y="370" font-size="10.3" textLength="48" lengthAdjust="spacingAndGlyphs">Bandwidth</text>
 <text x="530" y="382" font-size="10.3" textLength="57" lengthAdjust="spacingAndGlyphs">Optimization</text>
 <text x="671" y="370" font-size="13.5" stroke="#f0f0f5" stroke-width="0.15" textLength="35.5" lengthAdjust="spacingAndGlyphs">kafka</text>
 <text x="671" y="380" font-size="9.8" textLength="48.8" lengthAdjust="spacing">Messaging</text>
</g>
<g fill="#fff" font-size="14.5" font-weight="bold">
 <text x="174" y="338" textLength="85" lengthAdjust="spacing">CONSUME</text>
 <text x="340" y="338" textLength="106" lengthAdjust="spacing">TRANSFORM</text>
 <text x="524" y="338" textLength="67.5" lengthAdjust="spacing">DELIVER</text>
</g>
<!-- transform diagram -->
<g fill="none" stroke="#2aa8e8" stroke-width="1">
 <path d="M318,434 C326,434 330,431 330,424 V403 C330,399 332,397 336,397" stroke-width="1.4"/>
 <path d="M318,434 C326,434 330,437 330,444 V466 C330,470 332,472 336,472" stroke-width="1.4"/>
 <path d="M375,395 H384 C388,395 386,375 392,375 M375,397 H392 M375,399 H384 C388,399 386,418 392,418"/>
 <path d="M375,470 H384 C388,470 386,451 392,451 M375,472 H392 M375,474 H384 C388,474 386,494 392,494"/>
 <path d="M432,373 H438 M432,377 C435,377 435,379 438,379 M432,394 H438 M432,398 C435,398 435,400 438,400 M432,416 H438 M432,420 C435,420 435,422 438,422"/>
 <path d="M432,449 H438 M432,453 C435,453 435,455 438,455 M432,470 H438 M432,474 C435,474 435,476 438,476 M432,492 H438 M432,496 C435,496 435,498 438,498"/>
</g>
<circle cx="318.3" cy="434.2" r="7.3" fill="#18a8e8"/>
<g fill="none" stroke-width="2" stroke-linejoin="round">
 <path d="M376,363.4 H456 Q459,363.4 459,366.4 V383.6 Q459,386.6 456,386.6 H384.6 Q381.6,386.6 381.6,389.6 V406.4 Q381.6,409.4 378.6,409.4 H330 Q327,409.4 327,406.4 V386 Q327,383 330,383 H370 Q373,383 373,380 V366.4 Q373,363.4 376,363.4 Z" stroke="#e2168e"/>
 <path d="M381.6,462 H456 Q459,462 459,465 V503.6 Q459,506.6 456,506.6 H376 Q373,506.6 373,503.6 V486" stroke="#3ab59a"/>
 <path d="M376,439.4 H456 Q459,439.4 459,442.4 V459 Q459,462 456,462 H384.6 Q381.6,462 381.6,465 V483 Q381.6,486 378.6,486 H330.6 Q327.6,486 327.6,483 V462.4 Q327.6,459.4 330.6,459.4 H370 Q373,459.4 373,456.4 V442.4 Q373,439.4 376,439.4 Z" stroke="#f39222"/>
</g>
<g fill="#0aa6e6">
 <rect x="335.6" y="391" width="39.4" height="12.5" rx="6.2"/>
 <rect x="392" y="368" width="40" height="13.6" rx="6.8"/>
 <rect x="392" y="389.4" width="40" height="13.6" rx="6.8"/>
 <rect x="392" y="411.2" width="40" height="13.6" rx="6.8"/>
 <rect x="335.6" y="465.6" width="39.4" height="13.4" rx="6.7"/>
 <rect x="392" y="444" width="40" height="13.4" rx="6.7"/>
 <rect x="392" y="466" width="40" height="13.4" rx="6.7"/>
 <rect x="392" y="487.4" width="40" height="13.6" rx="6.8"/>
 <rect x="437.6" y="368.5" width="14.4" height="5"/><rect x="437.6" y="376.5" width="14.4" height="4.8"/>
 <rect x="437.6" y="389.5" width="14.4" height="5"/><rect x="437.6" y="398" width="14.4" height="5"/>
 <rect x="437.6" y="411" width="14.4" height="5"/><rect x="437.6" y="420" width="14.4" height="5"/>
 <rect x="437.6" y="444" width="14.4" height="5"/><rect x="437.6" y="452.5" width="14.4" height="5"/>
 <rect x="437.6" y="466" width="14.4" height="5"/><rect x="437.6" y="474.5" width="14.4" height="5"/>
 <rect x="437.6" y="487.5" width="14.4" height="5"/><rect x="437.6" y="496" width="14.4" height="5"/>
</g>
<g fill="#fff" font-size="9.6" text-anchor="middle" stroke="#fff" stroke-width="0.12">
 <text x="355.3" y="399.6" textLength="33" lengthAdjust="spacingAndGlyphs">FX Data</text>
 <text x="412" y="377.8" textLength="18.5" lengthAdjust="spacingAndGlyphs">USD</text>
 <text x="412" y="399.2" textLength="19" lengthAdjust="spacingAndGlyphs">GBP</text>
 <text x="412" y="421" textLength="18.5" lengthAdjust="spacingAndGlyphs">EUR</text>
 <text x="355.3" y="475.6" textLength="29" lengthAdjust="spacingAndGlyphs">Stock</text>
 <text x="412" y="454.2" textLength="24" lengthAdjust="spacingAndGlyphs">AAPL</text>
 <text x="412" y="476.2" textLength="27" lengthAdjust="spacingAndGlyphs">GOOG</text>
 <text x="412" y="497.6" textLength="22" lengthAdjust="spacingAndGlyphs">TSLA</text>
</g>
<!-- dotted lines -->
<g fill="none" stroke-width="2.4" stroke-dasharray="0.1 4.4" stroke-linecap="round">
 <path d="M461,375 C485,375 490,392 497,410 C502,424 506,431 519,431" stroke="#e8168e"/>
 <path d="M461,451 C480,451 492,436 519,436" stroke="#f39222"/>
 <path d="M461,484 C485,484 488,470 495,455 C502,443 508,440 519,440" stroke="#3ab59a"/>
 <path d="M584,418 C600,418 605,400 612,383 C617,372 622,368 641,368" stroke="#e8168e"/>
 <path d="M587,436 C610,436 622,418 663,418" stroke="#f39222"/>
 <path d="M636,380 C660,382 664,392 672,405" stroke="none"/>
</g>
<circle cx="642" cy="368" r="3.2" fill="#e8168e"/>
<circle cx="667" cy="418" r="3.6" fill="#f39222"/>
<!-- deliver node -->
<path d="M559.2,398 V411.4 H561 A22,28.6 0 0 1 583,440" fill="none" stroke="#14a8e8" stroke-width="1.6"/>
<circle cx="559.2" cy="394.9" r="3.4" fill="#14a8e8"/>
<defs><linearGradient id="tri" x1="0" y1="0" x2="1" y2="0"><stop offset="0" stop-color="#c8ecfb"/><stop offset="1" stop-color="#36aee8"/></linearGradient></defs>
<path d="M521.2,423.8 L534,434.5 L521.2,446 Z" fill="url(#tri)"/>
<g stroke="#e6e6ee" stroke-width="1.4" fill="none">
 <path d="M558.6,434.5 V423.5 M558.6,434.5 L547.6,432 M558.6,434.5 L569.8,432"/>
 <circle cx="558.6" cy="419.9" r="3.8"/><circle cx="544.3" cy="431.7" r="3.8"/><circle cx="573" cy="431.7" r="3.8"/>
</g>
<circle cx="558.6" cy="437" r="4.6" fill="#e6e6ee"/>
<circle cx="558.6" cy="418.7" r="1.3" fill="none" stroke="#e6e6ee" stroke-width="0.9"/><path d="M556.3,422.5 A2.4,2.2 0 0 1 560.9,422.5" fill="none" stroke="#e6e6ee" stroke-width="0.9"/><circle cx="544.3" cy="430.5" r="1.3" fill="none" stroke="#e6e6ee" stroke-width="0.9"/><path d="M542.0,434.3 A2.4,2.2 0 0 1 546.6,434.3" fill="none" stroke="#e6e6ee" stroke-width="0.9"/><circle cx="573.0" cy="430.5" r="1.3" fill="none" stroke="#e6e6ee" stroke-width="0.9"/><path d="M570.7,434.3 A2.4,2.2 0 0 1 575.3,434.3" fill="none" stroke="#e6e6ee" stroke-width="0.9"/>
<!-- kafka icon -->
<g fill="none" stroke="#fff" stroke-width="1.2">
 <path d="M655,357.8 V362.8 M655,367.6 V371.6 M657.2,364 L661.5,361.5 M657.2,366.4 L661.5,368.8"/>
 <circle cx="655" cy="355.4" r="2.4"/><circle cx="655" cy="365.2" r="2.4"/><circle cx="655" cy="374" r="2.4"/>
 <circle cx="663.7" cy="360.3" r="2.4"/><circle cx="663.7" cy="370" r="2.4"/>
</g>
<!-- pills right -->
<g fill="#e5168c">
 <rect x="713" y="350" width="34.8" height="8.7" rx="4.3"/>
 <rect x="728.7" y="361" width="31.3" height="9" rx="4.5"/>
 <rect x="753.6" y="372" width="12.4" height="4"/><rect x="753.6" y="377.7" width="12.4" height="3.8"/>
</g>
<g fill="#f39222">
 <rect x="701" y="402" width="32" height="8.5" rx="4.2"/>
 <rect x="717" y="413" width="32" height="8" rx="4"/>
 <rect x="742" y="423" width="12.5" height="4"/><rect x="742" y="429.7" width="12.5" height="3.6"/>
</g>
<g fill="#3db8a0">
 <rect x="727.7" y="505" width="30.3" height="8.7" rx="4.3"/>
 <rect x="727.7" y="516.4" width="30.3" height="7.8" rx="3.9"/>
</g>
<g fill="#fff" font-size="6.8" text-anchor="middle">
 <text x="730.4" y="357">FX Data</text>
 <text x="744.3" y="368.2">USD</text>
 <text x="717" y="409">Stock</text>
 <text x="742.8" y="512">GOOG</text>
 <text x="742.8" y="523">TSLA</text>
</g>
</svg>
<!--/DIAGRAM-->
  <!-- logo -->
  <svg class="abs" style="left:0;top:0" width="320" height="45" viewBox="0 0 320 45">
    <g fill="none" stroke="#e6e9ec" stroke-width="3.9" stroke-linejoin="miter">
      <path d="M17.5,28.6 V14 H24.1 A10.8,10.8 0 0 1 24.1,35.6 H15.7"/>
      <path d="M44,12.2 V37.4"/>
      <path d="M53,37.4 V14 H66 M53,25.5 H64"/>
      <path d="M71.8,37.4 V14 H84.7 M71.8,25.5 H83"/>
      <path d="M90,12.2 V27.25 A8.45,8.45 0 0 0 106.9,27.25 V12.2"/>
      <path d="M128,17 C126.5,14.5 124,13.9 121,13.9 C117,13.9 114.6,16 114.6,19.2 C114.6,22.6 117.8,23.7 121,24.5 C125,25.5 127.5,27 127.5,30.6 C127.5,34 124.5,35.8 121,35.8 C117.5,35.8 114.8,34.6 113.5,31.8"/>
      <path d="M137,12.2 V37.4"/>
          </g>
    <g fill="none" stroke="#1aaee8" stroke-width="3.6">
      <path d="M150.8,5.1 A12.4,12.4 0 1 0 163.2,5.1"/>
      <path d="M156.8,1.5 V16" stroke-width="4"/>
    </g>
    <g fill="none" stroke="#1aaee8" stroke-width="3.6" stroke-linejoin="miter">
      <path d="M210.3,28.6 V14 H216.9 A10.8,10.8 0 0 1 216.9,35.6 H208.5"/>
      
      <path d="M250,14.2 H271 M260.5,14 V37.4"/>
      
    </g>
    <polygon fill="#e6e9ec" points="175,37.4 175,12.2 178.8,12.2 192.3,31 192.3,12.2 196,12.2 196,37.4 192.3,37.4 178.8,18.6 178.8,37.4"/>
    <g fill="#1aaee8">
      <polygon points="231.5,37.4 239.6,12.2 243.9,12.2 252,37.4 248,37.4 241.75,17.6 235.5,37.4"/>
      <rect x="236" y="26.5" width="11.5" height="3.5"/>
      <polygon points="270.5,37.4 278.6,12.2 282.9,12.2 291,37.4 287,37.4 280.75,17.6 274.5,37.4"/>
      <rect x="275" y="26.5" width="11.5" height="3.5"/>
    </g>
    <text x="290.5" y="17.5" fill="#1aaee8" font-family="Liberation Sans" font-size="6.5" font-weight="bold">TM</text>
  </svg>
  <!-- hamburger -->
  <div class="abs" style="left:714px;top:18px;width:28px;height:2px;background:#fff"></div>
  <div class="abs" style="left:714px;top:27px;width:28px;height:2px;background:#fff"></div>
  <div class="abs" style="left:714px;top:36px;width:28px;height:2px;background:#fff"></div>

  <div id="title">Fast PubSub Data Delivery at Internet Scale.</div>

  <div id="tabs">
    <div style="left:0;top:0;background:#00acee">Market data</div>
    <div style="left:150px;top:0;background:#b34ef5">Dynamic pricing</div>
    <div style="left:300px;top:0;background:#c21bc6">Live collaboration</div>
    <div style="left:450px;top:0;background:#3548d2">Web chat</div>
    <div style="left:0;top:30px;background:#3548d2">Notifications</div>
    <div style="left:150px;top:30px;background:#c21bc6">Tracking updates</div>
    <div style="left:300px;top:30px;background:#b34ef5">Realtime charts</div>
    <div style="left:450px;top:30px;background:#00acee">Multiplayer gaming</div>
  </div>

  <div id="strip"></div>
  <div class="btn" style="left:125px;width:262px;background:#00adee;text-align:left"><span style="position:absolute;right:63px;transform-origin:100% 50%">Visit Developer Portal</span></div>
  <div class="btn" style="left:399px;width:265px;background:#f7931e"><span>Visit Documentation Hub</span></div>
</div>
<div id="sb"><svg width="15" height="600" style="position:absolute;left:0;top:0">
 <path d="M3.5,10 L7.5,5.6 L11.5,10 Z" fill="#a3a3a3"/>
 <rect x="2" y="15" width="11" height="47" fill="#c1c1c1"/>
 <path d="M3.5,590.4 L7.5,594.8 L11.5,590.4 Z" fill="#505050"/>
</svg></div>
<div id="cookie">
  <p>We use cookies on our website to give<br>you the most relevant experience by<br>remembering your preferences and<br>repeat visits. By clicking “Accept”, you<br>consent to the use of ALL the cookies.<br><span style="color:#00a8e8;-webkit-text-stroke:0.2px #00a8e8">Learn more</span></p>
  <div class="abs" style="left:30px;top:149px;width:96px;height:20px;font-size:15px;line-height:20px;color:#111;white-space:nowrap"><span style="display:inline-block;transform:scaleX(0.905);transform-origin:0 0;text-decoration:underline">Cookie Settings</span></div>
  <div class="abs" style="left:140px;top:146px;width:60px;height:31px;background:#00a8e8;color:#fff;font-size:12px;line-height:31px;text-align:center">Accept</div>
</div>
<!--CHAT-->
<div class="abs" style="left:506px;top:440px;width:262px;height:71.5px;border:2.2px solid #0ea6e4;border-radius:36px;background:#fff"></div>
<div class="abs" style="left:540px;top:464px;width:230px;height:24px;font-size:15.2px;letter-spacing:0.2px;line-height:24px;color:#dfe1e5;white-space:nowrap">Hi there <span style="display:inline-block;width:7px;height:14px;border:1px solid #dfe1e5;vertical-align:-3px;margin-left:2px;margin-right:1px"></span>How can we help?</div>
<svg class="abs" style="left:610px;top:410px" width="150" height="60" viewBox="610 410 150 60">
 <circle cx="637.3" cy="440" r="19.8" fill="#1c0c44"/>
 <path d="M629.4,447.5 V428.8 H637 A11.2,11.2 0 0 1 637,451.4 H627.6" fill="none" stroke="#fff" stroke-width="3.3"/>
 <circle cx="733.3" cy="419.8" r="11.8" fill="#6a6a6a" opacity="0.95"/>
 <path d="M729,415.5 L737.6,424.1 M737.6,415.5 L729,424.1" stroke="#fff" stroke-width="1.2"/>
</svg>
<div class="abs" style="left:709px;top:524px;width:60px;height:60px;border-radius:30px;background:#00adee;box-shadow:0 3px 8px rgba(0,0,0,.25)"></div>
<svg class="abs" style="left:709px;top:524px" width="60" height="60" viewBox="709 524 60 60">
 <g fill="none" stroke="#fff" stroke-width="2" stroke-linejoin="round">
  <path d="M733,541.6 H750.5 Q752.8,541.6 752.8,544 V554.4"/>
  <path d="M729,545.5 H745 Q747,545.5 747,547.5 V559 Q747,561.2 745,561.2 H733.5 L727.2,566.6 V547.5 Q727.2,545.5 729,545.5 Z"/>
 </g>
</svg>
<!--/CHAT-->
</body></html>
